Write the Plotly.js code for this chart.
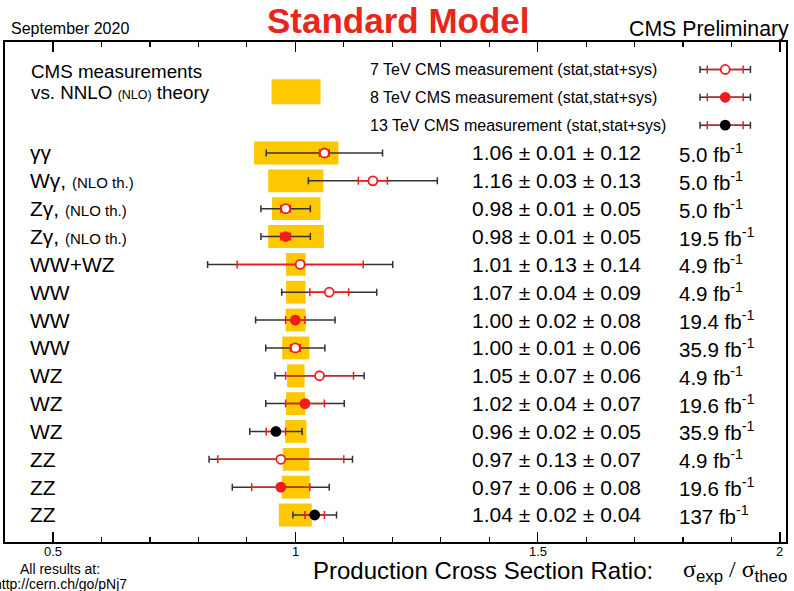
<!DOCTYPE html>
<html>
<head>
<meta charset="utf-8">
<script src="https://cdn.plot.ly/plotly-3.0.1.min.js"></script>
<style>html,body{margin:0;padding:0;background:#fff;}#chart{width:794px;height:591px;}</style>
</head>
<body>
<div id="chart"></div>
<script>
// ---- data (rows top to bottom) ----
const procNames = ['γγ','Wγ,','Zγ,','Zγ,','WW+WZ','WW','WW','WW','WZ','WZ','WZ','ZZ','ZZ','ZZ'];
const procNotes = ['','(NLO th.)','(NLO th.)','(NLO th.)','','','','','','','','','',''];
const markerStyle = ['open','open','open','filled','open','open','filled','open','open','filled','black','open','filled','black'];
const ratio = [1.06,1.16,0.98,0.98,1.01,1.07,1.00,1.00,1.05,1.02,0.96,0.97,0.97,1.04];
const statErr = [0.01,0.03,0.01,0.01,0.13,0.04,0.02,0.01,0.07,0.04,0.02,0.13,0.06,0.02];
const sysErr = [0.12,0.13,0.05,0.05,0.14,0.09,0.08,0.06,0.06,0.07,0.05,0.07,0.08,0.04];
const totalErr = [0.120,0.133,0.051,0.051,0.191,0.098,0.082,0.061,0.092,0.081,0.054,0.148,0.100,0.045];
const lumi = ['5.0','5.0','5.0','19.5','4.9','4.9','19.4','35.9','4.9','19.6','35.9','4.9','19.6','137'];
const theoLow  = [0.915,0.944,0.952,0.944,0.981,0.981,0.980,0.973,0.983,0.981,0.979,0.974,0.972,0.966];
const theoHigh = [1.089,1.058,1.052,1.059,1.021,1.021,1.021,1.029,1.019,1.020,1.023,1.029,1.030,1.034];

// x-axis ticks
const tickVals = [0.5, 1, 1.5, 2];
const tickLabels = ['0.5', '1', '1.5', '2'];

// legend samples
const legendLabels = ['7 TeV CMS measurement (stat,stat+sys)','8 TeV CMS measurement (stat,stat+sys)','13 TeV CMS measurement (stat,stat+sys)'];
const legendStyle = ['open','filled','black'];
const legendX = [1.887,1.887,1.887];
const legendStat = [0.037,0.037,0.037];
const legendTot = [0.052,0.052,0.052];
const legendBoxLow = 0.951, legendBoxHigh = 1.052;

// ---- helpers ----
const rowY = procNames.map((_, i) => i);
const legendY = [-3, -2, -1];
const RED = '#ee1c1c';
function mFill(s){ return s === 'open' ? '#ffffff' : (s === 'filled' ? RED : '#000000'); }
function mLine(s){ return s === 'black' ? '#000000' : RED; }
const FONT = 'Liberation Sans, Arial, Helvetica, sans-serif';
const SERIF = 'Liberation Serif, Times New Roman, serif';
const YELLOW = '#fdc800';

const traces = [];
// theory bands
traces.push({
  type:'bar', orientation:'h', y: rowY, base: theoLow,
  x: theoHigh.map((h,i)=>h-theoLow[i]), width: 0.82,
  marker:{color:YELLOW, line:{width:0}}, hoverinfo:'skip', showlegend:false
});
traces.push({
  type:'bar', orientation:'h', y:[-2.2], base:[legendBoxLow], x:[legendBoxHigh-legendBoxLow], width:0.9,
  marker:{color:YELLOW, line:{width:0}}, hoverinfo:'skip', showlegend:false
});
// outer (stat+sys) errors
function outer(x, y, e){
  return {type:'scatter', mode:'markers', x:x, y:y,
    marker:{size:1, color:'rgba(0,0,0,0)'},
    error_x:{type:'data', array:e, symmetric:true, color:'#333333', thickness:1.5, width:3.5},
    hoverinfo:'skip', showlegend:false};
}
function inner(x, y, e, st){
  return {type:'scatter', mode:'markers', x:x, y:y,
    marker:{size:9, symbol:'circle', color: st.map(mFill), line:{color: st.map(mLine), width:1.8}},
    error_x:{type:'data', array:e, symmetric:true, color:RED, thickness:1.5, width:4},
    hoverinfo:'skip', showlegend:false};
}
traces.push(outer(ratio, rowY, totalErr));
traces.push(inner(ratio, rowY, statErr, markerStyle));
traces.push(outer(legendX, legendY, legendTot));
traces.push(inner(legendX, legendY, legendStat, legendStyle));

// ---- annotations ----
const ann = [];
const W = 794, H = 591, ML = 5, MR = 8, MT = 42, MB = 49;
const pw = W - ML - MR, ph = H - MT - MB;
const px = v => (v - ML) / pw;
const py = v => (H - MB - v) / ph;

rowY.forEach((r, i) => {
  let t = procNames[i];
  if (procNotes[i]) t += ' <span style="font-size:15px">' + procNotes[i] + '</span>';
  ann.push({xref:'paper', yref:'y', x:px(28), y:r, xanchor:'left', yanchor:'middle', text:t, showarrow:false,
    font:{family:FONT, size:21, color:'#000'}});
  ann.push({xref:'paper', yref:'y', x:px(470), y:r, xanchor:'left', yanchor:'middle',
    text: ratio[i].toFixed(2) + ' ± ' + statErr[i].toFixed(2) + ' ± ' + sysErr[i].toFixed(2),
    showarrow:false, font:{family:FONT, size:21, color:'#000'}});
  ann.push({xref:'paper', yref:'y', x:px(677), y:r, xanchor:'left', yanchor:'middle',
    text: lumi[i] + ' fb<sup>-1</sup>', showarrow:false, font:{family:FONT, size:20.5, color:'#000'}});
});
legendLabels.forEach((l, i) => {
  ann.push({xref:'paper', yref:'y', x:px(368), y:legendY[i], xanchor:'left', yanchor:'middle', text:l,
    showarrow:false, font:{family:FONT, size:16, color:'#000'}});
});
ann.push({xref:'paper', yref:'y', x:px(29), y:-2.94, xanchor:'left', yanchor:'middle', text:'CMS measurements',
  showarrow:false, font:{family:FONT, size:18.8, color:'#000'}});
ann.push({xref:'paper', yref:'y', x:px(29), y:-2.19, xanchor:'left', yanchor:'middle',
  text:'vs. NNLO <span style="font-size:12.5px">(NLO)</span> theory',
  showarrow:false, font:{family:FONT, size:18.8, color:'#000'}});
// tick labels
tickVals.forEach((v, i) => {
  ann.push({xref:'x', yref:'paper', x:v, y:py(551), xanchor:'center', yanchor:'middle',
    text:tickLabels[i], showarrow:false, font:{family:FONT, size:13, color:'#000'}});
});
// header
ann.push({xref:'paper', yref:'paper', x:px(398), y:py(21), xanchor:'center', yanchor:'middle',
  text:'<b>Standard Model</b>', showarrow:false, font:{family:FONT, size:35, color:'#e8261c'}});
ann.push({xref:'paper', yref:'paper', x:px(9), y:py(29), xanchor:'left', yanchor:'middle',
  text:'September 2020', showarrow:false, font:{family:FONT, size:16, color:'#000'}});
ann.push({xref:'paper', yref:'paper', x:px(791), y:py(29), xanchor:'right', yanchor:'middle',
  text:'CMS Preliminary', showarrow:false, font:{family:FONT, size:21.3, color:'#000'}});
// footer
ann.push({xref:'paper', yref:'paper', x:px(60), y:py(569), xanchor:'center', yanchor:'middle',
  text:'All results at:', showarrow:false, font:{family:FONT, size:14, color:'#000'}});
ann.push({xref:'paper', yref:'paper', x:px(129), y:py(584), xanchor:'right', yanchor:'middle',
  text:'http://cern.ch/go/pNj7', showarrow:false, font:{family:FONT, size:14, color:'#000'}});
ann.push({xref:'paper', yref:'paper', x:px(311), y:py(570), xanchor:'left', yanchor:'middle',
  text:'Production Cross Section Ratio:', showarrow:false, font:{family:FONT, size:24, color:'#000'}});
ann.push({xref:'paper', yref:'paper', x:px(681), y:py(571), xanchor:'left', yanchor:'middle',
  text:'σ<sub><span style="font-family:Liberation Sans, Arial, sans-serif">exp</span></sub> / σ<sub><span style="font-family:Liberation Sans, Arial, sans-serif">theo</span></sub>',
  showarrow:false, font:{family:SERIF, size:24, color:'#000'}});

const layout = {
  width:W, height:H,
  margin:{l:ML, r:MR, t:MT, b:MB, pad:0},
  paper_bgcolor:'#fff', plot_bgcolor:'#fff',
  barmode:'overlay', showlegend:false,
  font:{family:FONT, color:'#000'},
  xaxis:{
    range:[0.401, 2.0124], autorange:false,
    tickvals:tickVals, showticklabels:false,
    ticks:'inside', ticklen:10, tickwidth:1.5, tickcolor:'#000',
    minor:{dtick:0.1, tick0:0.5, ticks:'inside', ticklen:5, tickwidth:1.2, tickcolor:'#000'},
    showline:true, linewidth:2, linecolor:'#000', mirror:'ticks',
    showgrid:false, zeroline:false
  },
  yaxis:{
    range:[13.97, -3.986], autorange:false,
    showticklabels:false, ticks:'',
    showline:true, linewidth:2, linecolor:'#000', mirror:true,
    showgrid:false, zeroline:false
  },
  annotations: ann
};

Plotly.newPlot('chart', traces, layout, {staticPlot:true, displayModeBar:false});
</script>
</body>
</html>
